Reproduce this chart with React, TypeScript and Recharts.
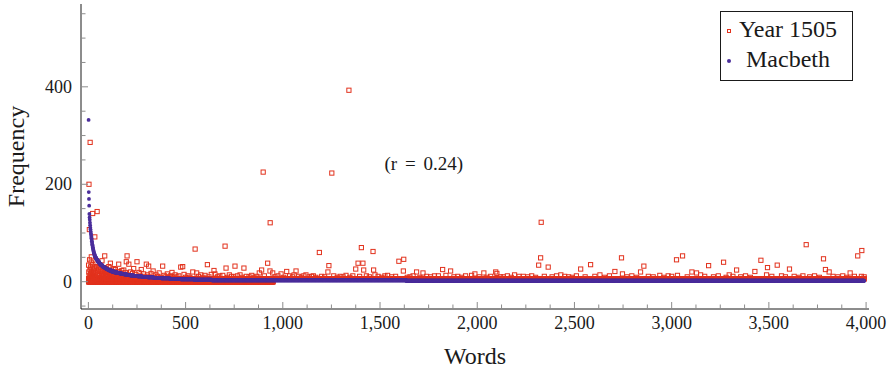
import React from "react";
import { ScatterChart, Scatter, XAxis, YAxis, Legend, ReferenceDot } from "recharts";

const FONT = "Liberation Serif, Times New Roman, serif";
const RED = "#e2321d";
const BLUE = "#4a2d9b";
const INK = "#1a1a1a";
const TICK = "#8c8c8c";

const xTicks = [
  0, 125, 250, 375, 500, 625, 750, 875, 1000, 1125, 1250, 1375, 1500, 1625, 1750, 1875, 2000,
  2125, 2250, 2375, 2500, 2625, 2750, 2875, 3000, 3125, 3250, 3375, 3500, 3625, 3750, 3875, 4000,
];
const xLabelTicks = [0, 500, 1000, 1500, 2000, 2500, 3000, 3500, 4000];
const yTicks = [-50, 0, 50, 100, 150, 200, 250, 300, 350, 400, 450, 500, 550];
const yLabelTicks = [0, 200, 400];

// Macbeth: word frequencies by rank (top words one by one, then [frequency, number of words])
const macbethHead = [
  332, 184, 170, 156, 139, 132, 127, 121, 116, 111, 107, 103, 99, 96, 92, 89, 86, 83, 80, 77, 75,
  72, 70, 68, 66, 64, 62, 60,
];
const macbethRuns: [number, number][] = [
  [58, 2], [55, 3], [52, 3], [49, 4], [46, 5], [43, 5], [40, 6], [37, 7], [34, 8], [31, 9],
  [29, 8], [27, 9], [25, 10], [23, 12], [21, 14], [19, 16], [18, 10], [17, 12], [16, 13],
  [15, 14], [14, 16], [13, 18], [12, 20], [11, 24], [10, 28], [9, 32], [8, 38], [7, 45],
  [6, 55], [5, 70], [4, 90], [3, 1000], [2, 2356],
];

// Year 1505: dense low rows [from rank, to rank, frequency]
const yearBaseRuns: [number, number, number][] = [
  [1, 950, 0], [1, 3990, 6],
];

// Year 1505: single words [rank, frequency]
const yearPoints: [number, number][] = [
  [1, 34], [2, 20], [3, 200], [4, 12], [5, 107], [6, 45], [7, 8], [8, 25], [9, 286], [10, 15],
  [11, 30], [12, 5], [13, 18], [14, 40], [15, 51], [16, 10], [17, 22], [18, 3], [19, 28], [20, 14],
  [21, 9], [22, 140], [23, 35], [24, 6], [25, 19], [26, 12], [27, 24], [28, 4], [29, 16], [30, 8],
  [31, 26], [33, 92], [35, 11], [36, 38], [38, 20], [40, 7], [42, 31], [45, 144], [47, 15], [49, 22],
  [51, 28], [53, 9], [55, 17], [57, 33], [59, 12], [61, 21], [63, 6], [65, 26], [67, 14], [70, 43],
  [72, 18], [74, 10], [76, 24], [78, 13], [80, 29], [82, 8], [84, 53], [86, 16], [88, 21], [90, 11],
  [92, 27], [94, 15], [96, 7], [98, 19], [100, 12], [103, 22], [105, 31], [108, 9], [111, 17],
  [113, 38], [116, 13], [119, 24], [122, 8], [125, 19], [128, 14], [131, 27], [134, 10], [137, 20],
  [139, 25], [142, 12], [146, 16], [150, 9], [154, 21], [156, 36], [160, 13], [164, 18], [168, 8],
  [172, 23], [176, 11], [180, 15], [182, 24], [186, 10], [190, 19], [195, 41], [199, 53], [203, 14],
  [208, 36], [212, 9], [217, 20], [222, 12], [227, 17], [233, 27], [238, 10], [244, 15], [250, 41],
  [255, 8], [260, 19], [266, 12], [272, 25], [278, 9], [284, 16], [290, 11], [298, 36], [304, 14],
  [310, 32], [316, 10], [322, 17], [333, 22], [340, 9], [348, 14], [356, 11], [364, 18], [372, 8],
  [382, 32], [390, 13], [398, 10], [406, 16], [414, 9], [422, 12], [430, 19], [438, 8], [446, 14],
  [455, 10], [465, 12], [475, 30], [485, 31], [492, 15], [500, 9],
  [512, 12], [522, 9], [537, 20], [549, 67], [557, 18], [566, 11], [578, 14], [590, 9], [600, 13],
  [612, 35], [620, 10], [632, 15], [646, 23], [651, 16], [664, 10], [676, 12], [691, 13], [703, 73],
  [708, 28], [716, 9], [725, 14], [736, 11], [748, 10], [754, 32], [766, 12], [780, 14], [790, 9],
  [800, 28], [812, 11], [826, 10], [840, 13], [852, 9], [866, 11], [879, 18], [891, 24], [899, 225],
  [905, 12], [922, 38], [934, 22], [935, 121], [948, 18], [960, 10], [975, 12], [991, 16],
  [1005, 9], [1020, 21], [1035, 12], [1050, 10], [1058, 14], [1068, 22], [1082, 11], [1095, 9],
  [1108, 12], [1119, 14], [1135, 10], [1148, 11], [1157, 12], [1170, 9], [1188, 60], [1200, 11],
  [1215, 10], [1232, 20], [1237, 33], [1252, 223], [1262, 12], [1280, 9], [1295, 11], [1310, 10],
  [1325, 13], [1340, 393], [1345, 9], [1360, 12], [1375, 26], [1387, 38], [1395, 11], [1404, 70],
  [1412, 38], [1416, 24], [1430, 12], [1445, 10], [1464, 62], [1467, 24], [1474, 14], [1490, 11],
  [1510, 9], [1525, 12], [1539, 13], [1560, 10], [1580, 11], [1597, 42], [1620, 22], [1622, 46],
  [1640, 9], [1654, 10], [1670, 12], [1688, 20], [1705, 9], [1721, 18], [1740, 11], [1760, 10],
  [1780, 12], [1800, 12], [1822, 25], [1839, 13], [1863, 22], [1880, 10], [1900, 11], [1920, 9],
  [1940, 12], [1971, 13], [1988, 16], [2010, 10], [2034, 18], [2050, 9], [2069, 11], [2095, 20],
  [2101, 17], [2120, 10], [2134, 10], [2155, 12], [2175, 9], [2192, 14], [2215, 11], [2237, 11],
  [2260, 10], [2280, 12], [2300, 9], [2316, 34], [2326, 49], [2329, 122], [2345, 11], [2365, 30],
  [2385, 10], [2408, 12], [2430, 14], [2450, 11], [2470, 10], [2489, 9],
  [2510, 12], [2532, 26], [2555, 10], [2583, 35], [2605, 11], [2631, 14], [2655, 9], [2680, 12],
  [2708, 21], [2742, 49], [2747, 16], [2770, 10], [2795, 12], [2820, 9], [2840, 20], [2857, 32],
  [2880, 11], [2905, 10], [2939, 13], [2960, 9], [2982, 12], [3000, 11], [3025, 45], [3030, 13],
  [3056, 53], [3080, 10], [3104, 20], [3128, 18], [3149, 14], [3170, 11], [3190, 33], [3215, 10],
  [3240, 12], [3267, 40], [3280, 9], [3296, 14], [3315, 11], [3334, 24], [3355, 10], [3380, 12],
  [3405, 9], [3428, 21], [3459, 44], [3488, 14], [3493, 29],
  [3515, 11], [3543, 34], [3565, 12], [3585, 10], [3606, 26], [3630, 11], [3655, 9], [3675, 12],
  [3692, 76], [3710, 10], [3735, 12], [3760, 9], [3781, 47], [3791, 25], [3810, 20], [3830, 11],
  [3855, 10], [3880, 12], [3900, 9], [3918, 18], [3940, 11], [3957, 53], [3976, 11], [3978, 64],
  [3990, 10],
];

const macbethData: { x: number; y: number }[] = [];
macbethHead.forEach((v) => macbethData.push({ x: macbethData.length + 1, y: v }));
macbethRuns.forEach(([v, n]) => {
  for (let i = 0; i < n; i++) macbethData.push({ x: macbethData.length + 1, y: v });
});

const yearData: { x: number; y: number }[] = [];
yearBaseRuns.forEach(([from, to, v]) => {
  for (let r = from; r <= to; r++) yearData.push({ x: r, y: v });
});
yearPoints.forEach(([x, y]) => yearData.push({ x, y }));

const fmt = (v: number) => v.toLocaleString("en-US");

function BottomTick(props: any) {
  const { x, y, payload } = props;
  const major = xLabelTicks.includes(payload.value);
  return (
    <g>
      <line x1={x} x2={x} y1={y} y2={y - (major ? 7 : 4.5)} stroke={TICK} />
      {major && (
        <text x={x} y={y + 20} textAnchor="middle" fontFamily={FONT} fontSize={18} fill={INK}>
          {fmt(payload.value)}
        </text>
      )}
    </g>
  );
}

function TopTick(props: any) {
  const { x, y, payload } = props;
  const major = xLabelTicks.includes(payload.value);
  return <line x1={x} x2={x} y1={y} y2={y + (major ? 7 : 4.5)} stroke={TICK} />;
}

function LeftTick(props: any) {
  const { x, y, payload } = props;
  const major = yLabelTicks.includes(payload.value);
  return (
    <g>
      <line x1={x} x2={x + (major ? 7 : 4.5)} y1={y} y2={y} stroke={TICK} />
      {major && (
        <text x={x - 9} y={y + 6} textAnchor="end" fontFamily={FONT} fontSize={18} fill={INK}>
          {fmt(payload.value)}
        </text>
      )}
    </g>
  );
}

function RightTick(props: any) {
  const { x, y, payload } = props;
  const major = yLabelTicks.includes(payload.value);
  return <line x1={x} x2={x - (major ? 7 : 4.5)} y1={y} y2={y} stroke={TICK} />;
}

const RedSquare = (p: any) => (
  <rect x={p.cx - 2.1} y={p.cy - 2.1} width={4.2} height={4.2} fill="none" stroke={RED} strokeWidth={1} />
);
const BlueDot = (p: any) => <circle cx={p.cx} cy={p.cy} r={1.9} fill={BLUE} />;

function LegendBox() {
  const text: React.CSSProperties = {
    position: "absolute",
    left: 15,
    width: 104,
    textAlign: "center",
    lineHeight: "24px",
    whiteSpace: "nowrap",
  };
  return (
    <div
      style={{
        position: "relative",
        width: 133,
        height: 70,
        boxSizing: "border-box",
        border: `1px solid ${INK}`,
        background: "#fff",
        fontFamily: FONT,
        fontSize: 24,
        color: INK,
      }}
    >
      <div style={{ position: "absolute", left: 6, top: 16.7, width: 4, height: 4, boxSizing: "border-box", border: `1px solid ${RED}` }} />
      <span style={{ ...text, top: 4.5 }}>Year 1505</span>
      <div style={{ position: "absolute", left: 6, top: 47, width: 4, height: 4, borderRadius: 2, background: BLUE }} />
      <span style={{ ...text, top: 35 }}>Macbeth</span>
    </div>
  );
}

export default function App() {
  return (
    <div style={{ position: "absolute", left: 0, top: 0, width: 896, height: 372, background: "#fff", fontFamily: FONT }}>
      <ScatterChart width={896} height={372} margin={{ top: 4, right: 27, bottom: 0, left: 0 }} style={{ fontFamily: FONT }}>
        <XAxis
          type="number"
          dataKey="x"
          domain={[-38, 4015]}
          allowDataOverflow
          ticks={xTicks}
          interval={0}
          height={63}
          tickSize={0}
          tickMargin={0}
          tickLine={false}
          axisLine={{ stroke: INK }}
          tick={(p: any) => <BottomTick {...p} />}
          label={{ value: "Words", position: "insideBottom", offset: 8, fontFamily: FONT, fontSize: 24, fill: INK }}
        />
        <XAxis
          xAxisId="top"
          orientation="top"
          type="number"
          domain={[-38, 4015]}
          allowDataOverflow
          ticks={xTicks}
          interval={0}
          height={0}
          tickSize={0}
          tickMargin={0}
          tickLine={false}
          axisLine={{ stroke: INK }}
          tick={(p: any) => <TopTick {...p} />}
        />
        <YAxis
          type="number"
          dataKey="y"
          domain={[-56, 570]}
          allowDataOverflow
          ticks={yTicks}
          interval={0}
          width={81}
          tickSize={0}
          tickMargin={0}
          tickLine={false}
          axisLine={{ stroke: INK }}
          tick={(p: any) => <LeftTick {...p} />}
          label={{
            value: "Frequency",
            angle: -90,
            position: "insideLeft",
            offset: 15,
            fontFamily: FONT,
            fontSize: 24,
            fill: INK,
            style: { textAnchor: "middle" },
          }}
        />
        <YAxis
          yAxisId="right"
          orientation="right"
          type="number"
          domain={[-56, 570]}
          allowDataOverflow
          ticks={yTicks}
          interval={0}
          width={0}
          tickSize={0}
          tickMargin={0}
          tickLine={false}
          axisLine={{ stroke: INK }}
          tick={(p: any) => <RightTick {...p} />}
        />
        <Scatter name="Year 1505" data={yearData} shape={RedSquare} isAnimationActive={false} />
        <Scatter name="Macbeth" data={macbethData} shape={BlueDot} isAnimationActive={false} />
        <ReferenceDot
          x={1725}
          y={243}
          r={0}
          fill="none"
          stroke="none"
          label={{ value: "(r = 0.24)", position: "center", fontFamily: FONT, fontSize: 19, fill: INK, style: { wordSpacing: 3 } }}
        />
        <Legend
          layout="horizontal"
          verticalAlign="middle"
          align="center"
          content={() => <LegendBox />}
          wrapperStyle={{ position: "absolute", left: 720, top: 11, width: 133, height: 70 }}
        />
      </ScatterChart>
    </div>
  );
}
